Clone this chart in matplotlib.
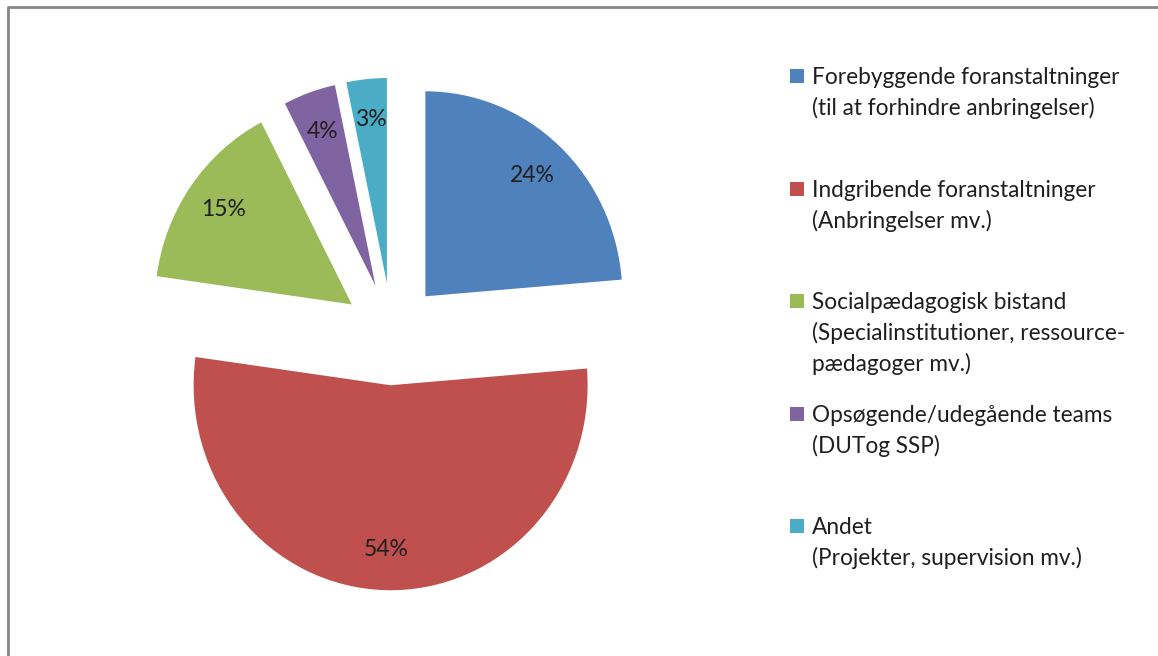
import matplotlib
matplotlib.use("Agg")
import matplotlib.pyplot as plt
from matplotlib.patches import Rectangle
from matplotlib.lines import Line2D

# data (share of spending, %)
labels = [
    "Forebyggende foranstaltninger\n(til at forhindre anbringelser)",
    "Indgribende foranstaltninger\n(Anbringelser mv.)",
    "Socialpædagogisk bistand\n(Specialinstitutioner, ressource-\npædagoger mv.)",
    "Opsøgende/udegående teams\n(DUTog SSP)",
    "Andet\n(Projekter, supervision mv.)",
]
shares = [23.7, 53.5, 15.2, 4.3, 3.3]
colors = ["#4F81BD", "#C0504D", "#9BBB59", "#8064A2", "#4BACC6"]

W, H = 1158, 656
FONT = "Lato"

fig = plt.figure(figsize=(W / 100, H / 100), dpi=100)
ax = fig.add_axes([0, 0, 1, 1])

wedges, texts, autotexts = ax.pie(
    shares, colors=colors, explode=[0.25] * len(shares),
    startangle=90, counterclock=False,
    autopct=lambda p: f"{p:.0f}%", pctdistance=0.8,
    wedgeprops=dict(linewidth=0),
    textprops=dict(fontsize=16.5, family=FONT, color="#1f1f1f"),
)

# pie centre at (392, 334) px, radius ~197 px wide, ~205 px tall
cx, cy, rx, ry = 392, 334, 197, 205
ax.set_aspect("auto")
ax.set_xlim(-cx / rx, (W - cx) / rx)
ax.set_ylim(-(H - cy) / ry, cy / ry)
ax.axis("off")

# legend, drawn by hand so entries are evenly spaced
def fx(px):
    return px / W

def fy(py):
    return 1 - py / H

for i, (lab, col) in enumerate(zip(labels, colors)):
    base = 84 + i * 112.6
    fig.add_artist(Rectangle((fx(790), fy(base - 1)), 14 / W, 14 / H,
                             transform=fig.transFigure, color=col, lw=0))
    for j, line in enumerate(lab.split("\n")):
        fig.text(fx(812), fy(base + j * 31), line, fontsize=16.3, family=FONT,
                 color="#1f1f1f", va="baseline", ha="left")

# chart frame (only top and left edges visible)
fig.add_artist(Line2D([fx(8), fx(8), 1], [0, fy(7), fy(7)],
                      transform=fig.transFigure, color="#878787", lw=2))

fig.savefig("out.png", dpi=100)
